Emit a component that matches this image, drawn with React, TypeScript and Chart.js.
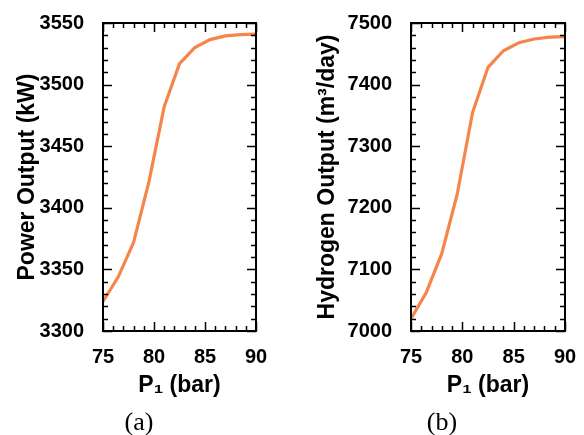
import React, { useEffect, useRef } from "react";
import { Chart, registerables } from "chart.js";

Chart.register(...registerables);

// ---- data ----
const pressure = [75, 76.5, 78, 79.5, 81, 82.5, 84, 85.5, 87, 88.5, 90];
const powerOutput = [3324, 3344, 3372, 3421, 3482, 3517, 3530, 3536.5, 3539.5, 3540.5, 3541];
const hydrogenOutput = [7020, 7063, 7126, 7222, 7355, 7428, 7455, 7468, 7474, 7477, 7478];
const xTicks = [75, 80, 85, 90];
const powerTicks = [3300, 3350, 3400, 3450, 3500, 3550];
const hydrogenTicks = [7000, 7100, 7200, 7300, 7400, 7500];
const xTitle = "P\u2081 (bar)";
const powerTitle = "Power Output (kW)";
const hydrogenTitle = "Hydrogen Output (m\u00B3/day)";
const captions = ["(a)", "(b)"];

const LINE_COLOR = "#f5854b";
const SANS = "'Liberation Sans', Arial, Helvetica, sans-serif";

const framePlugin = {
  id: "frameTicks",
  afterDraw(chart: any, _args: any, opts: any) {
    const { ctx, chartArea: a, scales } = chart;
    const xs = scales.x;
    const ys = scales.y;
    ctx.save();
    ctx.strokeStyle = "#000";
    ctx.lineWidth = 1.5;
    const drawTicks = (scale: any, minor: number, major: number, horizontal: boolean) => {
      const n = Math.round((scale.max - scale.min) / minor);
      for (let i = 0; i <= n; i++) {
        const v = scale.min + i * minor;
        const r = v / major;
        const isMajor = Math.abs(r - Math.round(r)) < 1e-6;
        const len = isMajor ? 9 : 5;
        const p = Math.round(scale.getPixelForValue(v)) + 0.5;
        ctx.beginPath();
        if (horizontal) {
          ctx.moveTo(p, a.bottom);
          ctx.lineTo(p, a.bottom - len);
          ctx.moveTo(p, a.top);
          ctx.lineTo(p, a.top + len);
        } else {
          ctx.moveTo(a.left, p);
          ctx.lineTo(a.left + len, p);
          ctx.moveTo(a.right, p);
          ctx.lineTo(a.right - len, p);
        }
        ctx.stroke();
      }
    };
    drawTicks(xs, opts.xMinor, opts.xMajor, true);
    drawTicks(ys, opts.yMinor, opts.yMajor, false);
    ctx.lineWidth = 2;
    ctx.strokeRect(a.left, a.top, a.right - a.left, a.bottom - a.top);
    ctx.restore();
  },
};

type PanelProps = {
  left: number;
  values: number[];
  yTicks: number[];
  yMinor: number;
  yTitle: string;
  yAxisWidth: number;
  yTitlePad: number;
  padRight: number;
};

function Panel({ left, values, yTicks, yMinor, yTitle, yAxisWidth, yTitlePad, padRight }: PanelProps) {
  const ref = useRef<HTMLCanvasElement | null>(null);
  useEffect(() => {
    if (!ref.current) return;
    const yMajor = yTicks[1] - yTicks[0];
    const chart = new Chart(ref.current, {
      type: "line",
      data: {
        datasets: [
          {
            data: pressure.map((p, i) => ({ x: p, y: values[i] })),
            borderColor: LINE_COLOR,
            borderWidth: 3.2,
            pointRadius: 0,
            tension: 0,
            fill: false,
          },
        ],
      },
      options: {
        responsive: false,
        animation: false,
        layout: { padding: { top: 23, right: padRight, left: 0, bottom: 0 } },
        plugins: {
          legend: { display: false },
          tooltip: { enabled: false },
          frameTicks: { xMinor: 1, xMajor: 5, yMinor, yMajor },
        } as any,
        scales: {
          x: {
            type: "linear",
            min: xTicks[0],
            max: xTicks[xTicks.length - 1],
            grid: { display: false },
            border: { display: false },
            ticks: {
              stepSize: xTicks[1] - xTicks[0],
              padding: 6,
              color: "#000",
              font: { family: SANS, size: 20, weight: "bold" },
              callback: (v: any) => String(v),
            },
            title: {
              display: true,
              text: xTitle,
              color: "#000",
              padding: { top: 0, bottom: 36 },
              font: { family: SANS, size: 23, weight: "bold" },
            },
            afterFit: (s: any) => {
              s.height = 104;
            },
          },
          y: {
            type: "linear",
            min: yTicks[0],
            max: yTicks[yTicks.length - 1],
            grid: { display: false },
            border: { display: false },
            ticks: {
              stepSize: yMajor,
              padding: 11,
              color: "#000",
              font: { family: SANS, size: 20, weight: "bold" },
              callback: (v: any) => String(v),
            },
            title: {
              display: true,
              text: yTitle,
              color: "#000",
              padding: { top: yTitlePad, bottom: 0 },
              font: { family: SANS, size: 23, weight: "bold" },
            },
            afterFit: (s: any) => {
              s.width = yAxisWidth;
            },
          },
        },
      },
      plugins: [framePlugin],
    });
    return () => chart.destroy();
  }, []);
  return (
    <canvas
      ref={ref}
      width={292}
      height={435}
      style={{ position: "absolute", left, top: 0, width: 292, height: 435 }}
    />
  );
}

export default function App() {
  const captionStyle = (cx: number): React.CSSProperties => ({
    position: "absolute",
    left: cx - 50,
    top: 409,
    width: 100,
    textAlign: "center",
    fontFamily: "'Liberation Serif', 'Times New Roman', serif",
    fontSize: 26,
    lineHeight: "26px",
    color: "#000",
  });
  return (
    <div style={{ position: "absolute", left: 0, top: 0, width: 584, height: 435, background: "#fff", overflow: "hidden" }}>
      <Panel
        left={0}
        values={powerOutput}
        yTicks={powerTicks}
        yMinor={10}
        yTitle={powerTitle}
        yAxisWidth={103}
        yTitlePad={14}
        padRight={36}
      />
      <Panel
        left={292}
        values={hydrogenOutput}
        yTicks={hydrogenTicks}
        yMinor={20}
        yTitle={hydrogenTitle}
        yAxisWidth={119}
        yTitlePad={22}
        padRight={19}
      />
      <div style={captionStyle(139)}>{captions[0]}</div>
      <div style={captionStyle(442)}>{captions[1]}</div>
    </div>
  );
}
